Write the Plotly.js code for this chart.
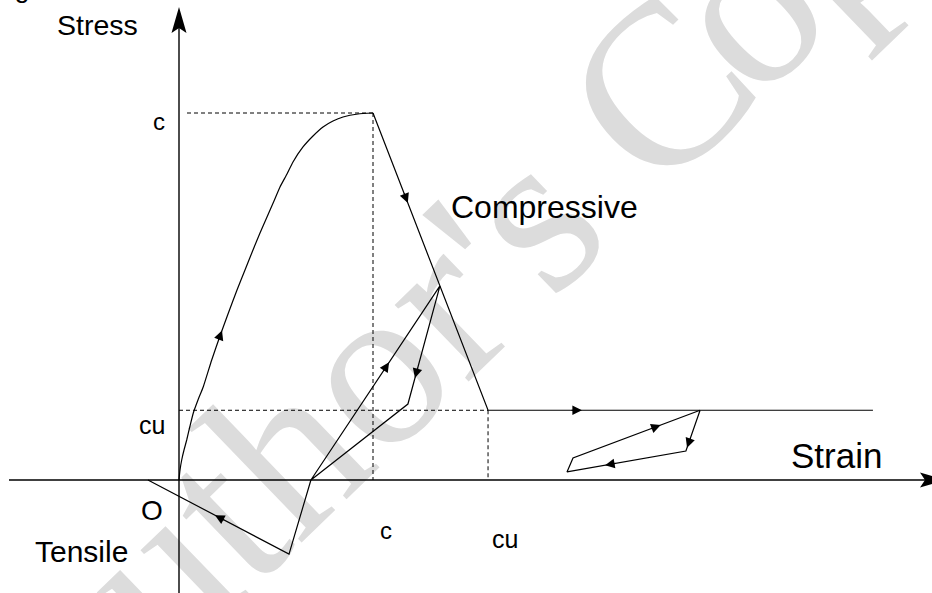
<!DOCTYPE html>
<html>
<head>
<meta charset="utf-8">
<script src="https://cdn.plot.ly/plotly-3.0.1.min.js"></script>
<style>
  html, body { margin: 0; padding: 0; background: #ffffff; }
  #wrap { position: relative; width: 932px; height: 593px; overflow: hidden; }
  #mark { position: absolute; left: 0; top: 0; }
  #chart { position: absolute; left: 0; top: 0; width: 932px; height: 593px; }
</style>
</head>
<body>
<div id="wrap">
  <svg id="mark" width="932" height="593">
    <text x="525" y="327" text-anchor="middle" transform="rotate(-44 525 327)"
          font-family="Liberation Serif, 'Times New Roman', serif" font-size="232"
          fill="#dcdcdc">Author's C<tspan dx="-18">o</tspan><tspan dx="-6">py</tspan></text>
    <text x="22" y="-3" text-anchor="middle" font-family="Liberation Sans, Arial, sans-serif"
          font-size="27" fill="#000">g</text>
  </svg>
  <div id="chart"></div>
</div>
<script>
// Strain normalised by eps_c, stress normalised by sigma_c.
// Monotonic compressive envelope up to the peak (eps_c, sigma_c)
const envStrain = [0, 0.0052, 0.0139, 0.0258, 0.0397, 0.0567, 0.0737, 0.0979, 0.1253, 0.1686,
                   0.2113, 0.2526, 0.2990, 0.3402, 0.3814, 0.4175, 0.4536, 0.4897, 0.5206, 0.5567,
                   0.5876, 0.6392, 0.6907, 0.7423, 0.7938, 0.8454, 0.9227, 1.0];
const envStress = [0, 0.0272, 0.0545, 0.0817, 0.1090, 0.1471, 0.1826, 0.2180, 0.2542, 0.3270,
                   0.3924, 0.4523, 0.5177, 0.5722, 0.6267, 0.6730, 0.7166, 0.7602, 0.7984, 0.8338,
                   0.8665, 0.9074, 0.9373, 0.9619, 0.9782, 0.9891, 0.9973, 1.0];

// Linear softening to (eps_cu, sigma_cu), then residual plateau
const softStrain = [1.0, 1.593, 3.577];
const softStress = [1.0, 0.19, 0.19];

// Unloading / reloading loop from the softening branch
const loopStrain = [1.345, 1.180, 0.680, 1.345];
const loopStress = [0.529, 0.207, 0.0, 0.529];

// Excursion into tension and return
const tenStrain = [0.680, 0.567, -0.160];
const tenStress = [0.0, -0.202, 0.0];

// Small cycle on the residual plateau
const cycStrain = [2.686, 2.613, 2.000, 2.031, 2.686];
const cycStress = [0.19, 0.079, 0.022, 0.060, 0.19];

// Reference values marked on the axes
const peakStrain = 1.0, peakStress = 1.0;
const ultStrain = 1.593, ultStress = 0.19;

// Label texts
const axisNames = ['Stress', 'Strain'];
const regionNames = ['Compressive', 'Tensile'];
const stressTicks = ['c', 'cu'];
const strainTicks = ['c', 'cu'];
const originLabel = 'O';

// ---- geometry of the drawing (pixels) ----
const W = 932, H = 593;
const OX = 179, OY = 480;       // origin position
const KX = 194, KY = 367;       // pixels per unit strain / stress
const px2x = p => (p - OX) / KX;
const py2y = p => (OY - p) / KY;

const FONT = 'Liberation Sans, Arial, Helvetica, sans-serif';
const solid = { color: '#000', width: 1.2 };
const dashed = { color: '#000', width: 1, dash: '4px,3px' };

function line(x, y, l, shape) {
  return { x: x, y: y, mode: 'lines', type: 'scatter', hoverinfo: 'skip',
           line: Object.assign({}, l, shape ? { shape: shape, smoothing: 0.5 } : {}) };
}

const traces = [
  // coordinate axes
  line([px2x(9), px2x(925)], [0, 0], { color: '#000', width: 1.4 }),
  line([0, 0], [py2y(28), py2y(600)], { color: '#000', width: 1.4 }),
  // guides to the characteristic points
  line([px2x(187), peakStrain], [peakStress, peakStress], dashed),
  line([peakStrain, peakStrain], [peakStress, 0], dashed),
  line([0, ultStrain], [ultStress, ultStress], dashed),
  line([ultStrain, ultStrain], [ultStress, 0], dashed),
  // response paths
  line(envStrain, envStress, solid, 'spline'),
  line(softStrain, softStress, solid),
  line(loopStrain, loopStress, solid),
  line(tenStrain, tenStress, solid),
  line(cycStrain, cycStress, solid)
];

// Direction arrows placed along path segments
function arrowOn(xs, ys, i, t) {
  const x0 = xs[i], y0 = ys[i], x1 = xs[i + 1], y1 = ys[i + 1];
  const hx = x0 + (x1 - x0) * t, hy = y0 + (y1 - y0) * t;
  const dxp = (x1 - x0) * KX, dyp = (y1 - y0) * KY;
  const len = Math.hypot(dxp, dyp);
  const back = 12;
  return {
    x: hx, y: hy, xref: 'x', yref: 'y',
    ax: hx - dxp / len * back / KX, ay: hy - dyp / len * back / KY,
    axref: 'x', ayref: 'y', text: '', showarrow: true,
    arrowhead: 2, arrowsize: 1.6, arrowwidth: 1.2, arrowcolor: '#000', standoff: 0
  };
}

const arrows = [
  arrowOn(envStrain, envStress, 10, 0.25),
  arrowOn(softStrain, softStress, 0, 0.3025),
  arrowOn(softStrain, softStress, 1, 0.244),
  arrowOn(loopStrain, loopStress, 2, 0.606),
  arrowOn(loopStrain, loopStress, 0, 0.78),
  arrowOn(tenStrain, tenStress, 1, 0.525),
  arrowOn(cycStrain, cycStress, 3, 0.69),
  arrowOn(cycStrain, cycStress, 0, 0.92),
  arrowOn(cycStrain, cycStress, 1, 0.68)
];

function label(text, x, y, size) {
  return { text: text, x: x, y: y, xref: 'x', yref: 'y', showarrow: false,
           xanchor: 'center', yanchor: 'middle', font: { family: FONT, size: size, color: '#000' } };
}

const labels = [
  label(axisNames[0], px2x(97), py2y(25), 28.5),
  label(axisNames[1], px2x(836), py2y(455), 35),
  label(regionNames[0], px2x(544.5), py2y(207), 32),
  label(regionNames[1], px2x(81), py2y(551.5), 30),
  label(stressTicks[0], px2x(159), py2y(121.7), 24),
  label(stressTicks[1], px2x(152), py2y(425.3), 25),
  label(strainTicks[0], px2x(386), py2y(530.7), 24),
  label(strainTicks[1], px2x(505), py2y(539.3), 25),
  label(originLabel, px2x(152), py2y(510.5), 28)
];

// Arrowheads at the ends of the coordinate axes (pixel-sized paths)
const shapes = [
  { type: 'path', xref: 'x', yref: 'y', xsizemode: 'pixel', ysizemode: 'pixel',
    xanchor: 0, yanchor: py2y(7), path: 'M0,0L-7.5,-26L0,-21L7.5,-26Z',
    fillcolor: '#000', line: { width: 0 } },
  { type: 'path', xref: 'x', yref: 'y', xsizemode: 'pixel', ysizemode: 'pixel',
    xanchor: px2x(946), yanchor: 0, path: 'M0,0L-26,7.5L-21,0L-26,-7.5Z',
    fillcolor: '#000', line: { width: 0 } }
];

const layout = {
  width: W, height: H,
  margin: { l: 0, r: 0, t: 0, b: 0, pad: 0 },
  paper_bgcolor: 'rgba(0,0,0,0)', plot_bgcolor: 'rgba(0,0,0,0)',
  showlegend: false,
  xaxis: { range: [px2x(0), px2x(W)], visible: false, fixedrange: true },
  yaxis: { range: [py2y(H), py2y(0)], visible: false, fixedrange: true },
  annotations: labels.concat(arrows),
  shapes: shapes
};

Plotly.newPlot('chart', traces, layout, { displayModeBar: false, staticPlot: true });
</script>
</body>
</html>
